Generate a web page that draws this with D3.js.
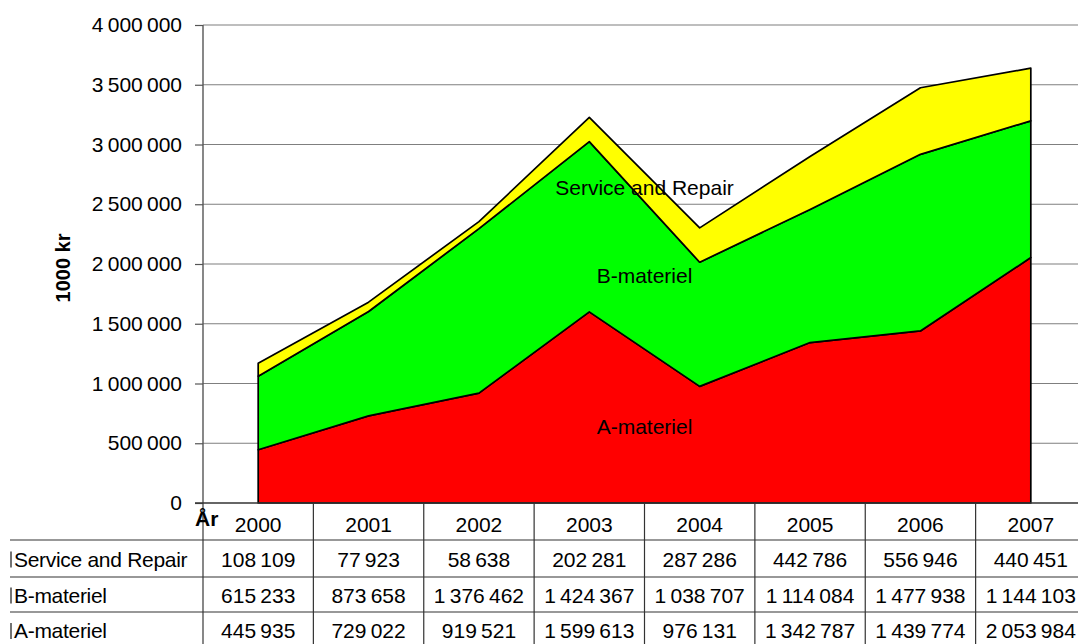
<!DOCTYPE html>
<html><head><meta charset="utf-8">
<script src="https://cdn.jsdelivr.net/npm/d3@7"></script>
<style>body{margin:0;background:#fff;overflow:hidden}svg{display:block}text{font-family:"Liberation Sans",Arial,sans-serif;fill:#000}</style>
</head><body>
<script>
const years = ["2000","2001","2002","2003","2004","2005","2006","2007"];
const aMateriel = [445935, 729022, 919521, 1599613, 976131, 1342787, 1439774, 2053984];
const bMateriel = [615233, 873658, 1376462, 1424367, 1038707, 1114084, 1477938, 1144103];
const serviceRepair = [108109, 77923, 58638, 202281, 287286, 442786, 556946, 440451];
const seriesNames = ["A-materiel", "B-materiel", "Service and Repair"];
const seriesColors = ["#ff0000", "#00ff00", "#ffff00"];
const yTicks = [0, 500000, 1000000, 1500000, 2000000, 2500000, 3000000, 3500000, 4000000];

const W = 1078, H = 644;
const m = {left: 203, right: 1086, top: 25, bottom: 503};
const FS = 21;
const svg = d3.select("body").append("svg").attr("width", W).attr("height", H);

const x = d3.scaleBand().domain(years).range([m.left, m.right]);
const xc = d => x(d) + x.bandwidth() / 2;
const y = d3.scaleLinear().domain([0, 4000000]).range([m.bottom, m.top]);

const fmt = d3.formatLocale({decimal: ",", thousands: "\u2009", grouping: [3], currency: ["", ""]}).format(",d");

// gridlines
svg.append("g").selectAll("line").data(yTicks.filter(d => d > 0)).join("line")
  .attr("x1", m.left).attr("x2", m.right).attr("y1", d => y(d)).attr("y2", d => y(d))
  .attr("stroke", "#7f7f7f").attr("stroke-width", 1.2);

// stacked areas
const rows = years.map((yr, i) => ({year: yr, "A-materiel": aMateriel[i], "B-materiel": bMateriel[i], "Service and Repair": serviceRepair[i]}));
const stack = d3.stack().keys(seriesNames)(rows);
const area = d3.area().x(d => xc(d.data.year)).y0(d => y(d[0])).y1(d => y(d[1]));
svg.append("g").selectAll("path").data(stack).join("path")
  .attr("d", area).attr("fill", (d, i) => seriesColors[i])
  .attr("stroke", "#000").attr("stroke-width", 1.7).attr("stroke-linejoin", "round");

// y axis
const yAxis = d3.axisLeft(y).tickValues(yTicks).tickFormat(fmt).tickSize(8).tickPadding(13);
const ga = svg.append("g").attr("transform", `translate(${m.left},0)`).call(yAxis);
ga.select(".domain").remove();
ga.selectAll(".tick line").attr("stroke", "#555").attr("stroke-width", 1.2);
ga.selectAll("text").attr("font-size", FS).attr("font-family", "Liberation Sans, Arial, sans-serif").attr("fill", "#000");

// axis lines
svg.append("line").attr("x1", m.left).attr("x2", m.left).attr("y1", m.top).attr("y2", H).attr("stroke", "#555").attr("stroke-width", 1.4);
svg.append("line").attr("x1", m.left - 8).attr("x2", W).attr("y1", m.bottom).attr("y2", m.bottom).attr("stroke", "#333").attr("stroke-width", 1.4);

// y title
svg.append("text").attr("transform", `translate(70,268) rotate(-90)`)
  .attr("text-anchor", "middle").attr("font-size", 20).attr("font-weight", "bold").text("1000 kr");

// series labels
const labelYears = ["2003", "2004"];
const lx = (xc(labelYears[0]) + xc(labelYears[1])) / 2;
const labelVals = [577000, 1841000, 2577000];
svg.append("g").selectAll("text").data(seriesNames).join("text")
  .attr("x", lx).attr("y", (d, i) => y(labelVals[i])).attr("text-anchor", "middle")
  .attr("font-size", FS).text(d => d);

// data table
const rowY = [503, 540, 577, 612, 648];
const tg = svg.append("g");
tg.selectAll("line.h").data(rowY.slice(1, 4)).join("line")
  .attr("x1", 10).attr("x2", W).attr("y1", d => d).attr("y2", d => d)
  .attr("stroke", "#333").attr("stroke-width", 1.2);
tg.selectAll("line.v").data(years.slice(1)).join("line")
  .attr("x1", d => x(d)).attr("x2", d => x(d)).attr("y1", rowY[0]).attr("y2", H)
  .attr("stroke", "#333").attr("stroke-width", 1.2);
tg.append("text").attr("x", 195).attr("y", 526).attr("font-size", FS).attr("font-weight", "bold").text("År");
tg.selectAll("text.yr").data(years).join("text").attr("class", "yr")
  .attr("x", d => xc(d)).attr("y", 532).attr("text-anchor", "middle").attr("font-size", FS).text(d => d);
const tableRows = [["Service and Repair", serviceRepair], ["B-materiel", bMateriel], ["A-materiel", aMateriel]];
tableRows.forEach((r, ri) => {
  const ty = (rowY[ri + 1] + rowY[ri + 2]) / 2 + 8;
  tg.append("line").attr("x1", 11).attr("x2", 11).attr("y1", ty - 15).attr("y2", ty + 1).attr("stroke", "#444").attr("stroke-width", 1.5);
  tg.append("text").attr("x", 14).attr("y", ty).attr("font-size", FS).attr("letter-spacing", -0.3).text(r[0]);
  tg.selectAll(null).data(r[1]).join("text")
    .attr("x", (d, i) => xc(years[i])).attr("y", ty).attr("text-anchor", "middle").attr("font-size", FS).text(d => fmt(d));
});
</script>
</body></html>
